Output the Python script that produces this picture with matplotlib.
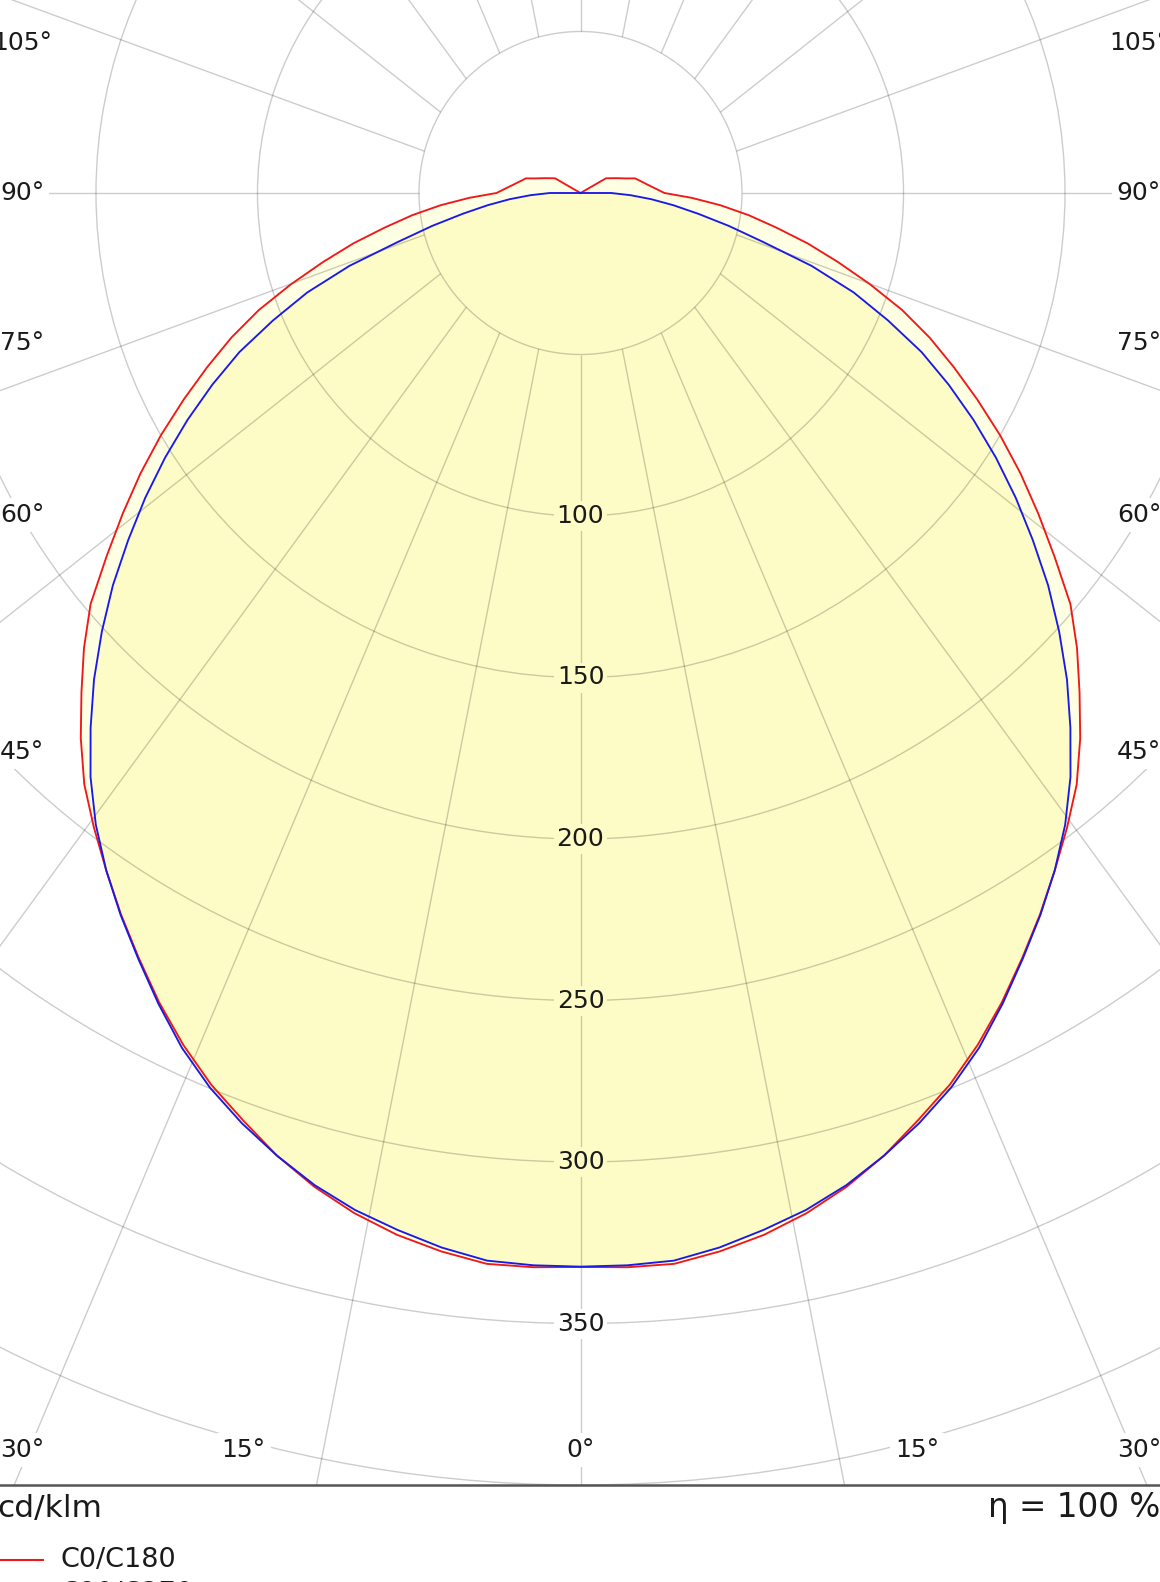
import numpy as np
import matplotlib.pyplot as plt
from matplotlib.patches import Rectangle, Circle

# luminous intensity, cd/klm, every 2.5 deg from nadir (0) to zenith (180)
angles = np.arange(0, 180.01, 2.5)
c0_c180 = [332.5, 332.9, 332.8, 330.5, 327.5, 323.5, 318.5, 312.5, 305.5,
           298.8, 291.0, 282.5, 273.5, 264.8, 256.0, 247.5, 239.0, 229.0,
           218.5, 208.5, 198.0, 185.0, 173.0, 161.5, 150.0, 138.5, 127.5,
           117.0, 106.0, 94.0, 82.5, 72.0, 61.5, 52.5, 43.5, 34.5, 26.0,
           23.9, 22.2, 20.7, 19.5, 18.4, 17.5, 15.0, 13.3, 12.0, 10.8,
           9.9, 9.1] + [0.0] * 24
c90_c270 = [332.4, 332.3, 331.8, 329.3, 326.0, 322.5, 318.0, 312.5, 306.5,
            299.8, 292.0, 283.0, 273.8, 265.0, 256.0, 246.5, 236.0, 224.5,
            213.0, 201.0, 189.0, 176.5, 164.5, 152.5, 140.5, 128.5, 116.5,
            103.0, 90.0, 75.0, 58.5, 47.0, 37.0, 29.0, 22.0, 15.5,
            9.5] + [0.0] * 36

ring_values = [50, 100, 150, 200, 250, 300, 350, 400]
ring_labels = [100, 150, 200, 250, 300, 350]
spoke_angles = np.arange(0, 181, 15)
side_labels = [45, 60, 75, 90, 105]
bottom_labels = [0, 15, 30]

PX = 3.23          # pixels per cd/klm
CX, CY = 580.5, 193.0
W, H = 1160, 1582
STRETCH = 1.37     # spokes fan out a bit flatter than true radii


def px(x, y):
    return (x - CX) / PX, (CY - y) / PX


def curve_xy(vals):
    th = np.radians(angles)
    r = np.asarray(vals, dtype=float)
    xr = r * np.sin(th)
    yr = -r * np.cos(th)
    x = np.concatenate([-xr[::-1], xr[1:]])
    y = np.concatenate([yr[::-1], yr[1:]])
    return x, y


fig = plt.figure(figsize=(W / 100, H / 100), dpi=100)
ax = fig.add_axes([0, 0, 1, 1])
x0, y1 = px(0, 0)
x1, y0 = px(W, H)
ax.set_xlim(x0, x1)
ax.set_ylim(y0, y1)
ax.axis('off')

fill_in = '#fefcc6'
fill_band = '#ffffe4'

rx, ry = curve_xy(c0_c180)
bx, by = curve_xy(c90_c270)
ax.fill(rx, ry, color=fill_band, lw=0, zorder=1)
ax.fill(bx, by, color=fill_in, lw=0, zorder=1.1)

clip = Rectangle((-200, -400), 400, 600, transform=ax.transData)

for r in ring_values:
    c = Circle((0, 0), r, fill=False, ec='black', alpha=0.2, lw=1.0, zorder=2)
    ax.add_patch(c)
    c.set_clip_path(clip)

for a in spoke_angles:
    t = np.radians(a)
    for side in ([1] if a in (0, 180) else [1, -1]):
        ax0 = 50 * side * np.sin(t)
        ay0 = -50 * np.cos(t)
        d = np.array([side * np.sin(t), -STRETCH * np.cos(t)])
        d = d / np.hypot(*d)
        ln, = ax.plot([ax0, ax0 + 900 * d[0]], [ay0, ay0 + 900 * d[1]],
                      color='black', alpha=0.2, lw=1.0, zorder=2,
                      solid_capstyle='butt')
        ln.set_clip_path(clip)

ax.plot(rx, ry, color='#f01818', lw=1.35, zorder=4)
ax.plot(bx, by, color='#1a1ae6', lw=1.35, zorder=5)

ax.plot([-200, 200], [-400, -400], color='#555555', lw=1.8, zorder=6)

txt = dict(fontsize=18, color='#1a1a1a', ha='center', va='center',
           family='DejaVu Sans', zorder=7)
for v in ring_labels:
    fc = 'white' if v > 330 else fill_in
    ax.text(0, -v, str(v), bbox=dict(boxstyle='square,pad=0.12', fc=fc,
                                     ec='none'), **txt)

xs = 558.5 / PX
yb = -(1450 - CY) / PX
for a in side_labels:
    t = np.radians(a)
    y = -xs * np.cos(t) / np.sin(t)
    for side in (1, -1):
        ax.text(side * xs, y, f'{a}°',
                bbox=dict(boxstyle='square,pad=0.2', fc='white', ec='none'),
                **txt)
for a in bottom_labels:
    x = min(-yb * np.tan(np.radians(a)), xs)
    for side in ([1] if a == 0 else [1, -1]):
        ax.text(side * x, yb, f'{a}°',
                bbox=dict(boxstyle='square,pad=0.2', fc='white', ec='none'),
                **txt)

ax.text(*px(-3, 1517), 'cd/klm', fontsize=22.5, color='#1a1a1a',
        ha='left', va='baseline')
ax.text(*px(988, 1517), 'η = 100 %', fontsize=23.5, color='#1a1a1a',
        ha='left', va='baseline')

legend = [('C0/C180', '#f01818'), ('C90/C270', '#1a1ae6')]
for i, (name, col) in enumerate(legend):
    yy = 1560 + 34 * i
    lx0, ly = px(0, yy)
    lx1, _ = px(43, yy)
    ax.plot([lx0, lx1], [ly, ly], color=col, lw=1.5)
    ax.text(*px(61, yy + 7), name, fontsize=19.5, color='#1a1a1a',
            ha='left', va='baseline')

fig.savefig('out.png', dpi=100)
